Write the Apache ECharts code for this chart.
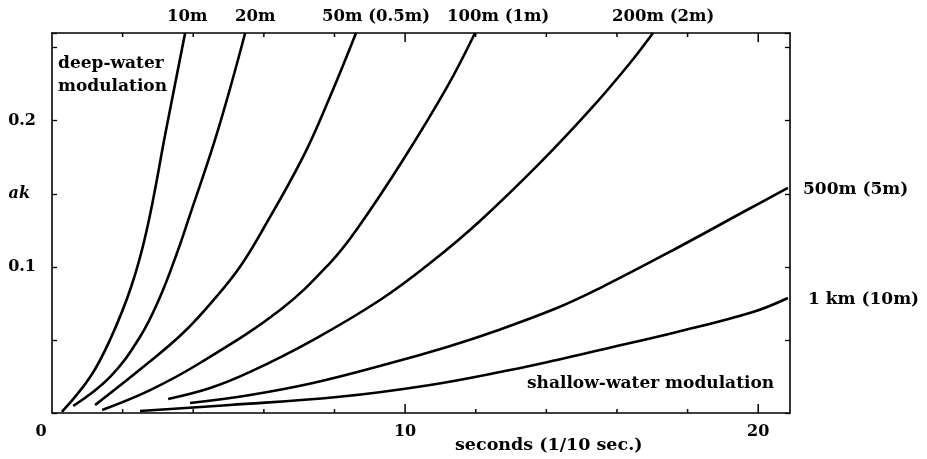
<!DOCTYPE html>
<html>
<head>
<meta charset="utf-8">
<script src="https://cdn.jsdelivr.net/npm/echarts@6/dist/echarts.min.js"></script>
<style>
html,body{margin:0;padding:0;background:#fff;}
#c{width:927px;height:459px;}
</style>
</head>
<body>
<div id="c"></div>
<script>
// ---- data (x: seconds, y: ak) ----
const curve10m = [[0.28,0.0007],[1.08,0.0246],[1.64,0.0499],[2.24,0.0862],[2.69,0.1259],[3.23,0.1936],[3.77,0.2600]];
const curve20m = [[0.60,0.0048],[1.64,0.0246],[2.49,0.0520],[3.06,0.0794],[3.54,0.1095],[3.85,0.1314],[4.70,0.1936],[5.47,0.2600]];
const curve50m = [[1.22,0.0055],[2.58,0.0315],[3.71,0.0547],[4.67,0.0800],[5.32,0.0999],[5.98,0.1259],[7.11,0.1752],[7.87,0.2162],[8.61,0.2600]];
const curve100m = [[1.42,0.0021],[2.78,0.0157],[4.19,0.0342],[6.46,0.0705],[7.87,0.1026],[8.67,0.1270],[9.94,0.1731],[11.19,0.2231],[11.98,0.2600]];
const curve200m = [[3.29,0.0096],[4.48,0.0171],[5.61,0.0281],[7.39,0.0499],[9.29,0.0773],[10.71,0.1026],[12.12,0.1314],[13.82,0.1711],[15.24,0.2075],[16.37,0.2395],[17.02,0.2600]];
const curve500m = [[3.91,0.0068],[5.61,0.0123],[7.39,0.0205],[9.49,0.0335],[11.19,0.0452],[12.40,0.0547],[14.30,0.0718],[15.52,0.0855],[17.70,0.1129],[19.68,0.1389],[20.84,0.1540]];
const curve1km = [[2.49,0.0014],[5.04,0.0055],[8.07,0.0109],[10.71,0.0192],[12.97,0.0294],[14.30,0.0363],[15.52,0.0431],[17.70,0.0554],[19.85,0.0691],[20.84,0.0787]];
const xTickLabels = [0, 10, 20];
const xMinorTicks = [2, 4, 6, 8, 12, 14, 16, 18];
const xMajorTicks = [10, 20];
const yTickLabels = [0.1, 0.2];
const yAxisTitleAt = 0.15;
const curveNames = ['10m','20m','50m (0.5m)','100m (1m)','200m (2m)','500m (5m)','1 km (10m)'];

const X_MIN = 0, X_MAX = 20.9, Y_MIN = 0, Y_MAX = 0.26;
const GRID = {left: 52, right: 137, top: 33, bottom: 46};
const GRID_H = 459 - GRID.top - GRID.bottom;
const dataPerPx = (Y_MAX - Y_MIN) / GRID_H;
const FONT = '"DejaVu Serif", serif';
const near = (a, b) => Math.abs(a - b) < 1e-6;

const chart = echarts.init(document.getElementById('c'), null, {renderer: 'canvas'});
const curves = [curve10m, curve20m, curve50m, curve100m, curve200m, curve500m, curve1km];

const txt = {fontFamily: FONT, fontWeight: 'bold', fontSize: 17, color: '#000'};
const noLabel = {color: 'rgba(0,0,0,0)', formatter: () => ''};

const lineSeries = curves.map((d, i) => ({
  name: curveNames[i],
  type: 'line',
  data: d,
  smooth: 0.4,
  showSymbol: false,
  symbol: 'none',
  clip: true,
  lineStyle: {color: '#000', width: 2.6},
  xAxisIndex: 0, yAxisIndex: 0
}));

// x-axis tick marks on bottom and top edges, drawn as short segments on the chart's scales
const tickSeries = [];
const addTick = (v, lenPx) => {
  const h = lenPx * dataPerPx;
  [[[v, Y_MIN], [v, Y_MIN + h]], [[v, Y_MAX], [v, Y_MAX - h]]].forEach(seg => {
    tickSeries.push({
      type: 'line', data: seg, showSymbol: false, symbol: 'none', silent: true,
      clip: false, smooth: false, z: 3,
      lineStyle: {color: '#000', width: 1.5},
      xAxisIndex: 0, yAxisIndex: 0
    });
  });
};
xMinorTicks.forEach(v => addTick(v, 4));
xMajorTicks.forEach(v => addTick(v, 9));

const option = {
  animation: false,
  grid: GRID,
  xAxis: [
    {type: 'value', min: X_MIN, max: X_MAX, interval: 10, position: 'bottom',
     axisLine: {show: true, onZero: false, lineStyle: {color: '#000', width: 1.6}},
     axisTick: {show: false},
     splitLine: {show: false},
     axisLabel: {
       margin: 11, fontFamily: FONT, fontWeight: 'bold', fontSize: 16, color: '#000',
       formatter: v => {
         if (near(v, 0)) return '{z|0}';
         return xTickLabels.some(t => near(t, v)) ? String(v) : '';
       },
       rich: {z: {fontFamily: FONT, fontWeight: 'bold', fontSize: 16, color: '#000', padding: [0, 22, 6, 0]}}
     }},
    {type: 'value', min: X_MIN, max: X_MAX, interval: 10, position: 'top',
     axisLine: {show: true, onZero: false, lineStyle: {color: '#000', width: 1.6}},
     axisTick: {show: false},
     splitLine: {show: false}, axisLabel: noLabel}
  ],
  yAxis: [{
    type: 'value', min: Y_MIN, max: Y_MAX, interval: 0.05, position: 'left',
    axisLine: {show: true, onZero: false, lineStyle: {color: '#000', width: 1.6}},
    axisTick: {show: true, inside: true, length: 5, lineStyle: {color: '#000', width: 1.3}},
    splitLine: {show: false},
    axisLabel: {
      margin: 16, fontFamily: FONT, fontWeight: 'bold', fontSize: 16, color: '#000',
      formatter: v => {
        if (near(v, yAxisTitleAt)) return '{ak|ak}';
        const t = yTickLabels.find(t => near(t, v));
        return t !== undefined ? t.toFixed(1) : '';
      },
      rich: {ak: {fontFamily: FONT, fontWeight: 'bold', fontStyle: 'italic', fontSize: 16, color: '#000', padding: [0, 6, 0, 0]}}
    }
  }, {
    type: 'value', min: Y_MIN, max: Y_MAX, interval: 0.05, position: 'right',
    axisLine: {show: true, onZero: false, lineStyle: {color: '#000', width: 1.6}},
    axisTick: {show: true, inside: true, length: 5, lineStyle: {color: '#000', width: 1.3}},
    splitLine: {show: false},
    axisLabel: noLabel
  }],
  series: lineSeries.concat(tickSeries),
  graphic: [
    {type: 'text', left: 167, top: 8, style: Object.assign({}, txt, {text: '10m', fontSize: 16.5})},
    {type: 'text', left: 235, top: 8, style: Object.assign({}, txt, {text: '20m', fontSize: 16.5})},
    {type: 'text', left: 322, top: 8, style: Object.assign({}, txt, {text: '50m (0.5m)', fontSize: 16.5})},
    {type: 'text', left: 447, top: 8, style: Object.assign({}, txt, {text: '100m (1m)', fontSize: 16.5})},
    {type: 'text', left: 612, top: 8, style: Object.assign({}, txt, {text: '200m (2m)', fontSize: 16.5})},
    {type: 'text', left: 803, top: 181, style: Object.assign({}, txt, {text: '500m (5m)'})},
    {type: 'text', left: 808, top: 291, style: Object.assign({}, txt, {text: '1 km (10m)'})},
    {type: 'text', left: 58, top: 52, style: Object.assign({}, txt, {text: 'deep-water\nmodulation', lineHeight: 23})},
    {type: 'text', left: 527, top: 375, style: Object.assign({}, txt, {text: 'shallow-water modulation'})},
    {type: 'text', left: 455, top: 436, style: Object.assign({}, txt, {text: 'seconds (1/10 sec.)', fontSize: 17.5})}
  ]
};
chart.setOption(option);
</script>
</body>
</html>
